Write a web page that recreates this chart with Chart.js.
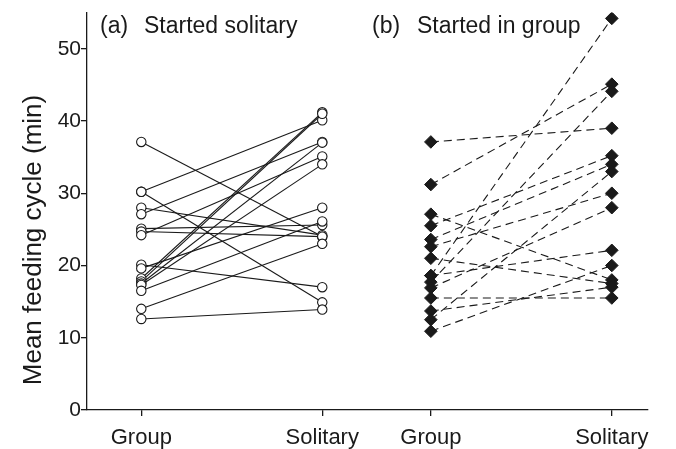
<!DOCTYPE html>
<html>
<head>
<meta charset="utf-8">
<script src="https://cdn.jsdelivr.net/npm/chart.js@4"></script>
<style>
  html, body { margin: 0; padding: 0; background: #fff; }
  #wrap { width: 676px; height: 449px; }
</style>
</head>
<body>
<div id="wrap"><canvas id="c" width="676" height="449"></canvas></div>
<script>
// Mean feeding cycle (min) of each individual under both conditions
const xTickLabels = ['Group', 'Solitary', 'Group', 'Solitary'];
const yTickValues = [0, 10, 20, 30, 40, 50];

// (a) started solitary — paired values per individual
const soloFirstGroup    = [37.1, 30.2, 30.2, 28.0, 27.1, 25.1, 24.7, 24.2, 20.1, 19.6, 18.2, 17.8, 17.5, 17.3, 16.5, 14.0, 12.6];
const soloFirstSolitary = [24.0, 40.1, 14.9, 24.2, 37.1, 25.6, 24.0, 35.1, 17.0, 28.0, 41.2, 41.0, 37.0, 34.0, 26.1, 23.0, 13.9];

// (b) started in group — paired values per individual
const groupFirstGroup    = [37.1, 31.2, 27.1, 25.5, 23.6, 22.6, 21.0, 18.6, 18.6, 17.7, 16.9, 15.5, 13.7, 12.5, 10.9];
const groupFirstSolitary = [39.0, 45.1, 18.0, 35.2, 34.0, 30.0, 17.5, 54.2, 22.1, 44.1, 28.0, 15.5, 17.0, 33.0, 20.0];

// horizontal placement of the four condition columns
const colA = [1, 2];
const colB = [2.6, 3.6];
const INK = '#1a1a1a';
const FONT = '"Liberation Sans", Arial, sans-serif';

function pairLines(groupVals, soloVals, cols, dash) {
  return groupVals.map((g, i) => ({
    data: [{ x: cols[0], y: g }, { x: cols[1], y: soloVals[i] }],
    showLine: true,
    borderColor: INK,
    borderWidth: 1.1,
    borderDash: dash,
    pointRadius: 0,
    order: 2
  }));
}

function markers(groupVals, soloVals, cols, style) {
  const pts = [];
  groupVals.forEach((g, i) => {
    pts.push({ x: cols[0], y: g });
    pts.push({ x: cols[1], y: soloVals[i] });
  });
  return Object.assign({ data: pts, showLine: false, order: 1 }, style);
}

const datasets = [
  ...pairLines(soloFirstGroup, soloFirstSolitary, colA, []),
  ...pairLines(groupFirstGroup, groupFirstSolitary, colB, [8, 5]),
  markers(soloFirstGroup, soloFirstSolitary, colA, {
    pointStyle: 'circle', pointRadius: 4.7, pointBorderWidth: 1.1,
    pointBackgroundColor: '#fff', pointBorderColor: INK
  }),
  markers(groupFirstGroup, groupFirstSolitary, colB, {
    pointStyle: 'rectRot', pointRadius: 6.3, pointBorderWidth: 1,
    pointBackgroundColor: INK, pointBorderColor: INK
  })
];

// panel captions and the vertical axis title
const captions = {
  id: 'captions',
  afterDraw(chart) {
    const ctx = chart.ctx;
    ctx.save();
    ctx.fillStyle = INK;
    ctx.textBaseline = 'alphabetic';
    ctx.font = '23px ' + FONT;
    ctx.fillText('(a)', 100, 33);
    ctx.fillText('Started solitary', 144, 33);
    ctx.fillText('(b)', 372, 33);
    ctx.fillText('Started in group', 417, 33);
    ctx.translate(41, 240);
    ctx.rotate(-Math.PI / 2);
    ctx.textAlign = 'center';
    ctx.font = '26px ' + FONT;
    ctx.fillText('Mean feeding cycle (min)', 0, 0);
    ctx.restore();
  }
};

new Chart(document.getElementById('c'), {
  type: 'scatter',
  data: { datasets },
  plugins: [captions],
  options: {
    responsive: false,
    animation: false,
    events: [],
    layout: { padding: { top: 11, right: 28, left: 0, bottom: 0 } },
    plugins: { legend: { display: false }, tooltip: { enabled: false } },
    scales: {
      x: {
        type: 'linear',
        min: 0.7,
        max: 3.8,
        afterBuildTicks(scale) { scale.ticks = [colA[0], colA[1], colB[0], colB[1]].map(v => ({ value: v })); },
        afterFit(scale) { scale.height = 39; },
        grid: { display: true, drawOnChartArea: false, drawTicks: true, tickLength: 6, color: INK, lineWidth: 1.3 },
        border: { display: true, color: INK, width: 1.3 },
        ticks: {
          autoSkip: false, maxRotation: 0, padding: 9, color: INK,
          font: { family: FONT, size: 22 },
          callback: (v, i) => xTickLabels[i]
        }
      },
      y: {
        min: 0,
        max: 55,
        afterBuildTicks(scale) { scale.ticks = yTickValues.map(v => ({ value: v })); },
        afterFit(scale) { scale.width = 87; },
        grid: { display: true, drawOnChartArea: false, drawTicks: true, tickLength: 6, color: INK, lineWidth: 1.3 },
        border: { display: true, color: INK, width: 1.3 },
        ticks: {
          autoSkip: false, padding: 0, color: INK,
          font: { family: FONT, size: 21 },
          callback: v => String(v)
        }
      }
    }
  }
});
</script>
</body>
</html>
